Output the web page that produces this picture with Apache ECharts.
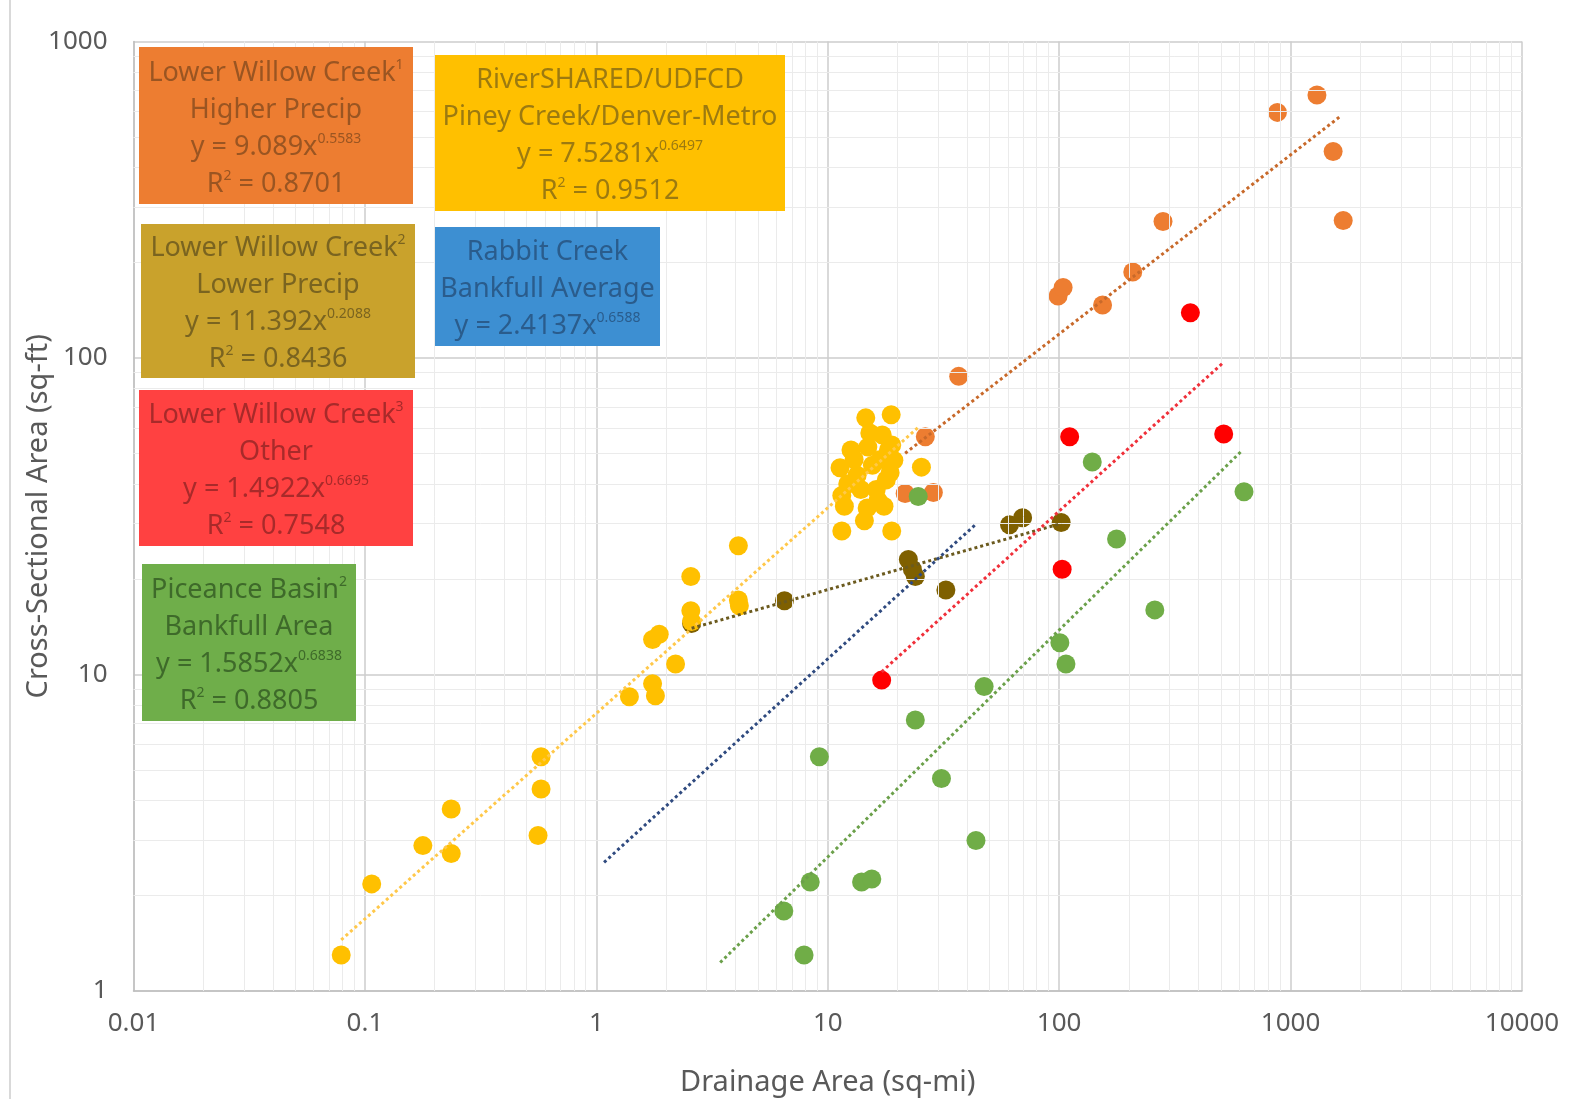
<!DOCTYPE html>
<html><head><meta charset="utf-8">
<script src="https://cdn.jsdelivr.net/npm/echarts@6/dist/echarts.min.js"></script>
<style>html,body{margin:0;padding:0;background:#fff}#c{width:1586px;height:1099px}</style>
</head><body><div id="c"></div>
<script>
// ---- tick labels ----
const xTickLabels = ['0.01','0.1','1','10','100','1000','10000'];
const yTickLabels = ['1','10','100','1000'];

// ---- series values [drainage area sq-mi, cross-sectional area sq-ft] ----
const higherPrecip = [[21.6,37.3],[26.4,56.4],[28.6,37.6],[36.8,87.5],[98.9,157],[104,167],[154,147],[208,187],[281,270],[877,597],[1300,678],[1527,449],[1688,272]];
const lowerPrecip = [[2.58,14.5],[6.5,17.1],[22.3,23.1],[23.2,21.5],[23.9,20.4],[32.4,18.5],[61,29.7],[69.5,31.3],[102,30.2]];
const riverShared = [[0.079,1.30],[0.107,2.18],[0.178,2.88],[0.236,2.72],[0.236,3.76],[0.56,3.10],[0.577,5.5],[0.577,4.35],
  [1.39,8.5],[1.75,9.35],[1.80,8.57],[1.75,12.9],[1.87,13.4],[2.2,10.8],[2.56,20.4],[2.56,15.9],[2.58,14.7],[4.11,25.5],[4.11,17.2],[4.15,16.5],
  [11.5,28.4],[18.9,28.4],[25.4,45.2],[14.6,64.7],[18.8,66.2],[11.3,45],[11.5,36.8],[11.8,34],[12.6,51.2],[13.4,42.6],[14.4,30.6],[14.8,33.6],
  [14.9,52.3],[15.6,45.8],[16.2,38.4],[16.9,47.8],[17.2,57.1],[18.3,51.2],[18.6,43.4],[17.9,41.2],[16.5,35.5],[18.9,53.1],[13.0,47.8],[12.2,40],
  [13.9,38.4],[15.2,58],[19.3,47.5],[17.5,34]];
const otherPts = [[17.1,9.6],[111,56.4],[103,21.5],[369,139],[514,57.5]];
const piceance = [[6.46,1.79],[7.9,1.30],[8.4,2.21],[9.2,5.5],[14.0,2.21],[15.5,2.26],[23.9,7.18],[24.6,36.5],[31,4.69],[43.7,2.99],[47.4,9.16],
  [100.7,12.6],[107,10.8],[139,46.9],[177,26.8],[259,16.0],[629,37.8]];

// ---- trendline endpoints ----
const trendHigher = [[21.6,50],[1640,580]];
const trendRiver = [[0.079,1.45],[25,61]];
const trendLower = [[2.58,14],[102,30]];
const trendRabbit = [[1.08,2.55],[44,30]];
const trendOther = [[17.1,10.2],[514,97]];
const trendPiceance = [[3.43,1.23],[617,51]];

// minor grid positions (2..9 per decade)
const minorX = [], minorY = [];
for (let d = -2; d < 4; d++) for (let k = 2; k <= 9; k++) minorX.push(+(k * Math.pow(10, d)).toPrecision(3));
for (let d = 0; d < 3; d++) for (let k = 2; k <= 9; k++) minorY.push(+(k * Math.pow(10, d)).toPrecision(3));

const FONT = 'Noto Sans';
const chart = echarts.init(document.getElementById('c'), null, {renderer: 'canvas'});

function fmt(labels) {
  return v => { const i = labels.findIndex(s => Math.abs(parseFloat(s) - v) / v < 1e-6); return i >= 0 ? labels[i] : ''; };
}

function box(x, y, w, h, bg, fg, lines) {
  const rich = {
    a: {fontSize: 27, lineHeight: 37, fill: fg, color: fg, fontFamily: FONT},
    s: {fontSize: 14, lineHeight: 14, verticalAlign: 'middle', padding: [0, 0, 16, 0], fill: fg, color: fg, fontFamily: FONT}
  };
  const text = lines.map(l => l.map(p => '{' + (p[1] ? 's' : 'a') + '|' + p[0] + '}').join('')).join('\n');
  return {
    type: 'group', x: x, y: y, z: 100, zlevel: 1,
    children: [
      {type: 'rect', z: 100, zlevel: 1, shape: {x: 0, y: 0, width: w, height: h}, style: {fill: bg}},
      {type: 'text', z: 101, zlevel: 1, x: w / 2, y: h / 2 + 3, style: {text: text, rich: rich, align: 'center', verticalAlign: 'middle', fill: fg, font: '27px ' + FONT}}
    ]
  };
}

function scatter(name, data, color, z) {
  return {name, type: 'scatter', data, symbolSize: 19, z,
    itemStyle: {color: color, opacity: 1}, animation: false};
}
function trend(name, data, color) {
  return {name, type: 'line', data, symbol: 'none', z: 10, animation: false,
    lineStyle: {color: color, width: 3, type: 'dotted'}};
}

chart.setOption({
  backgroundColor: '#ffffff',
  animation: false,
  grid: {left: 133.5, right: 64, top: 41.5, bottom: 108, containLabel: false, outerBoundsMode: 'none'},
  xAxis: {
    type: 'log', logBase: 10, min: 0.01, max: 10000, splitNumber: 6,
    name: 'Drainage Area (sq-mi)', nameLocation: 'middle', nameGap: 77,
    nameMoveOverlap: false,
    nameTextStyle: {color: '#595959', fontSize: 29, fontFamily: FONT},
    axisLine: {show: true, lineStyle: {color: '#bfbfbf', width: 1.5}},
    axisTick: {show: false},
    axisLabel: {color: '#595959', fontSize: 26, fontFamily: FONT, margin: 20, formatter: fmt(xTickLabels)},
    splitLine: {show: true, lineStyle: {color: '#cccccc', width: 1.5}}
  },
  yAxis: {
    type: 'log', logBase: 10, min: 1, max: 1000, splitNumber: 3,
    name: 'Cross-Sectional Area (sq-ft)', nameLocation: 'middle', nameGap: 80, nameRotate: 90,
    nameMoveOverlap: false,
    nameTextStyle: {color: '#595959', fontSize: 29, fontFamily: FONT},
    axisLine: {show: true, lineStyle: {color: '#bfbfbf', width: 1.5}},
    axisTick: {show: false},
    axisLabel: {color: '#595959', fontSize: 26, fontFamily: FONT, margin: 26, formatter: fmt(yTickLabels)},
    splitLine: {show: true, lineStyle: {color: '#cccccc', width: 1.5}}
  },
  series: [
    {type: 'scatter', data: [], z: 1, silent: true,
      markLine: {silent: true, symbol: ['none', 'none'], animation: false, label: {show: false},
        lineStyle: {type: 'solid', color: '#ebebeb', width: 1},
        data: minorX.map(v => ({xAxis: v})).concat(minorY.map(v => ({yAxis: v})))}},
    scatter('Lower Willow Creek1 Higher Precip', higherPrecip, '#ED7D31', 3),
    scatter('Lower Willow Creek2 Lower Precip', lowerPrecip, '#7F6000', 4),
    scatter('RiverSHARED/UDFCD', riverShared, '#FFC000', 5),
    scatter('Lower Willow Creek3 Other', otherPts, '#FF0000', 6),
    scatter('Piceance Basin', piceance, '#70AD47', 7),
    trend('trend higher', trendHigher, '#C8692A'),
    trend('trend river', trendRiver, '#FFC84A'),
    trend('trend lower', trendLower, '#6B5A1E'),
    trend('trend rabbit', trendRabbit, '#2F4A7F'),
    trend('trend other', trendOther, '#F0303A'),
    trend('trend piceance', trendPiceance, '#6BA04A')
  ],
  graphic: [
    {type: 'line', shape: {x1: 10, y1: 0, x2: 10, y2: 1099}, style: {stroke: '#d9d9d9', lineWidth: 2}},
    box(139, 47, 274, 157, '#ED7D31', '#9A5522', [[['Lower Willow Creek'], ['1', 1]], [['Higher Precip']], [['y = 9.089x'], ['0.5583', 1]], [['R'], ['2', 1], [' = 0.8701']]]),
    box(435, 55, 350, 156, '#FFC000', '#9C7A10', [[['RiverSHARED/UDFCD']], [['Piney Creek/Denver-Metro']], [['y = 7.5281x'], ['0.6497', 1]], [['R'], ['2', 1], [' = 0.9512']]]),
    box(141, 224, 274, 154, '#C9A22C', '#7A6420', [[['Lower Willow Creek'], ['2', 1]], [['Lower Precip']], [['y = 11.392x'], ['0.2088', 1]], [['R'], ['2', 1], [' = 0.8436']]]),
    box(435, 227, 225, 119, '#3D8FD2', '#2A5C8C', [[['Rabbit Creek']], [['Bankfull Average']], [['y = 2.4137x'], ['0.6588', 1]]]),
    box(139, 390, 274, 156, '#FF4141', '#A82A2A', [[['Lower Willow Creek'], ['3', 1]], [['Other']], [['y = 1.4922x'], ['0.6695', 1]], [['R'], ['2', 1], [' = 0.7548']]]),
    box(142, 564, 214, 157, '#6FAE4A', '#3E6A2A', [[['Piceance Basin'], ['2', 1]], [['Bankfull Area']], [['y = 1.5852x'], ['0.6838', 1]], [['R'], ['2', 1], [' = 0.8805']]])
  ]
});
</script>
</body></html>
